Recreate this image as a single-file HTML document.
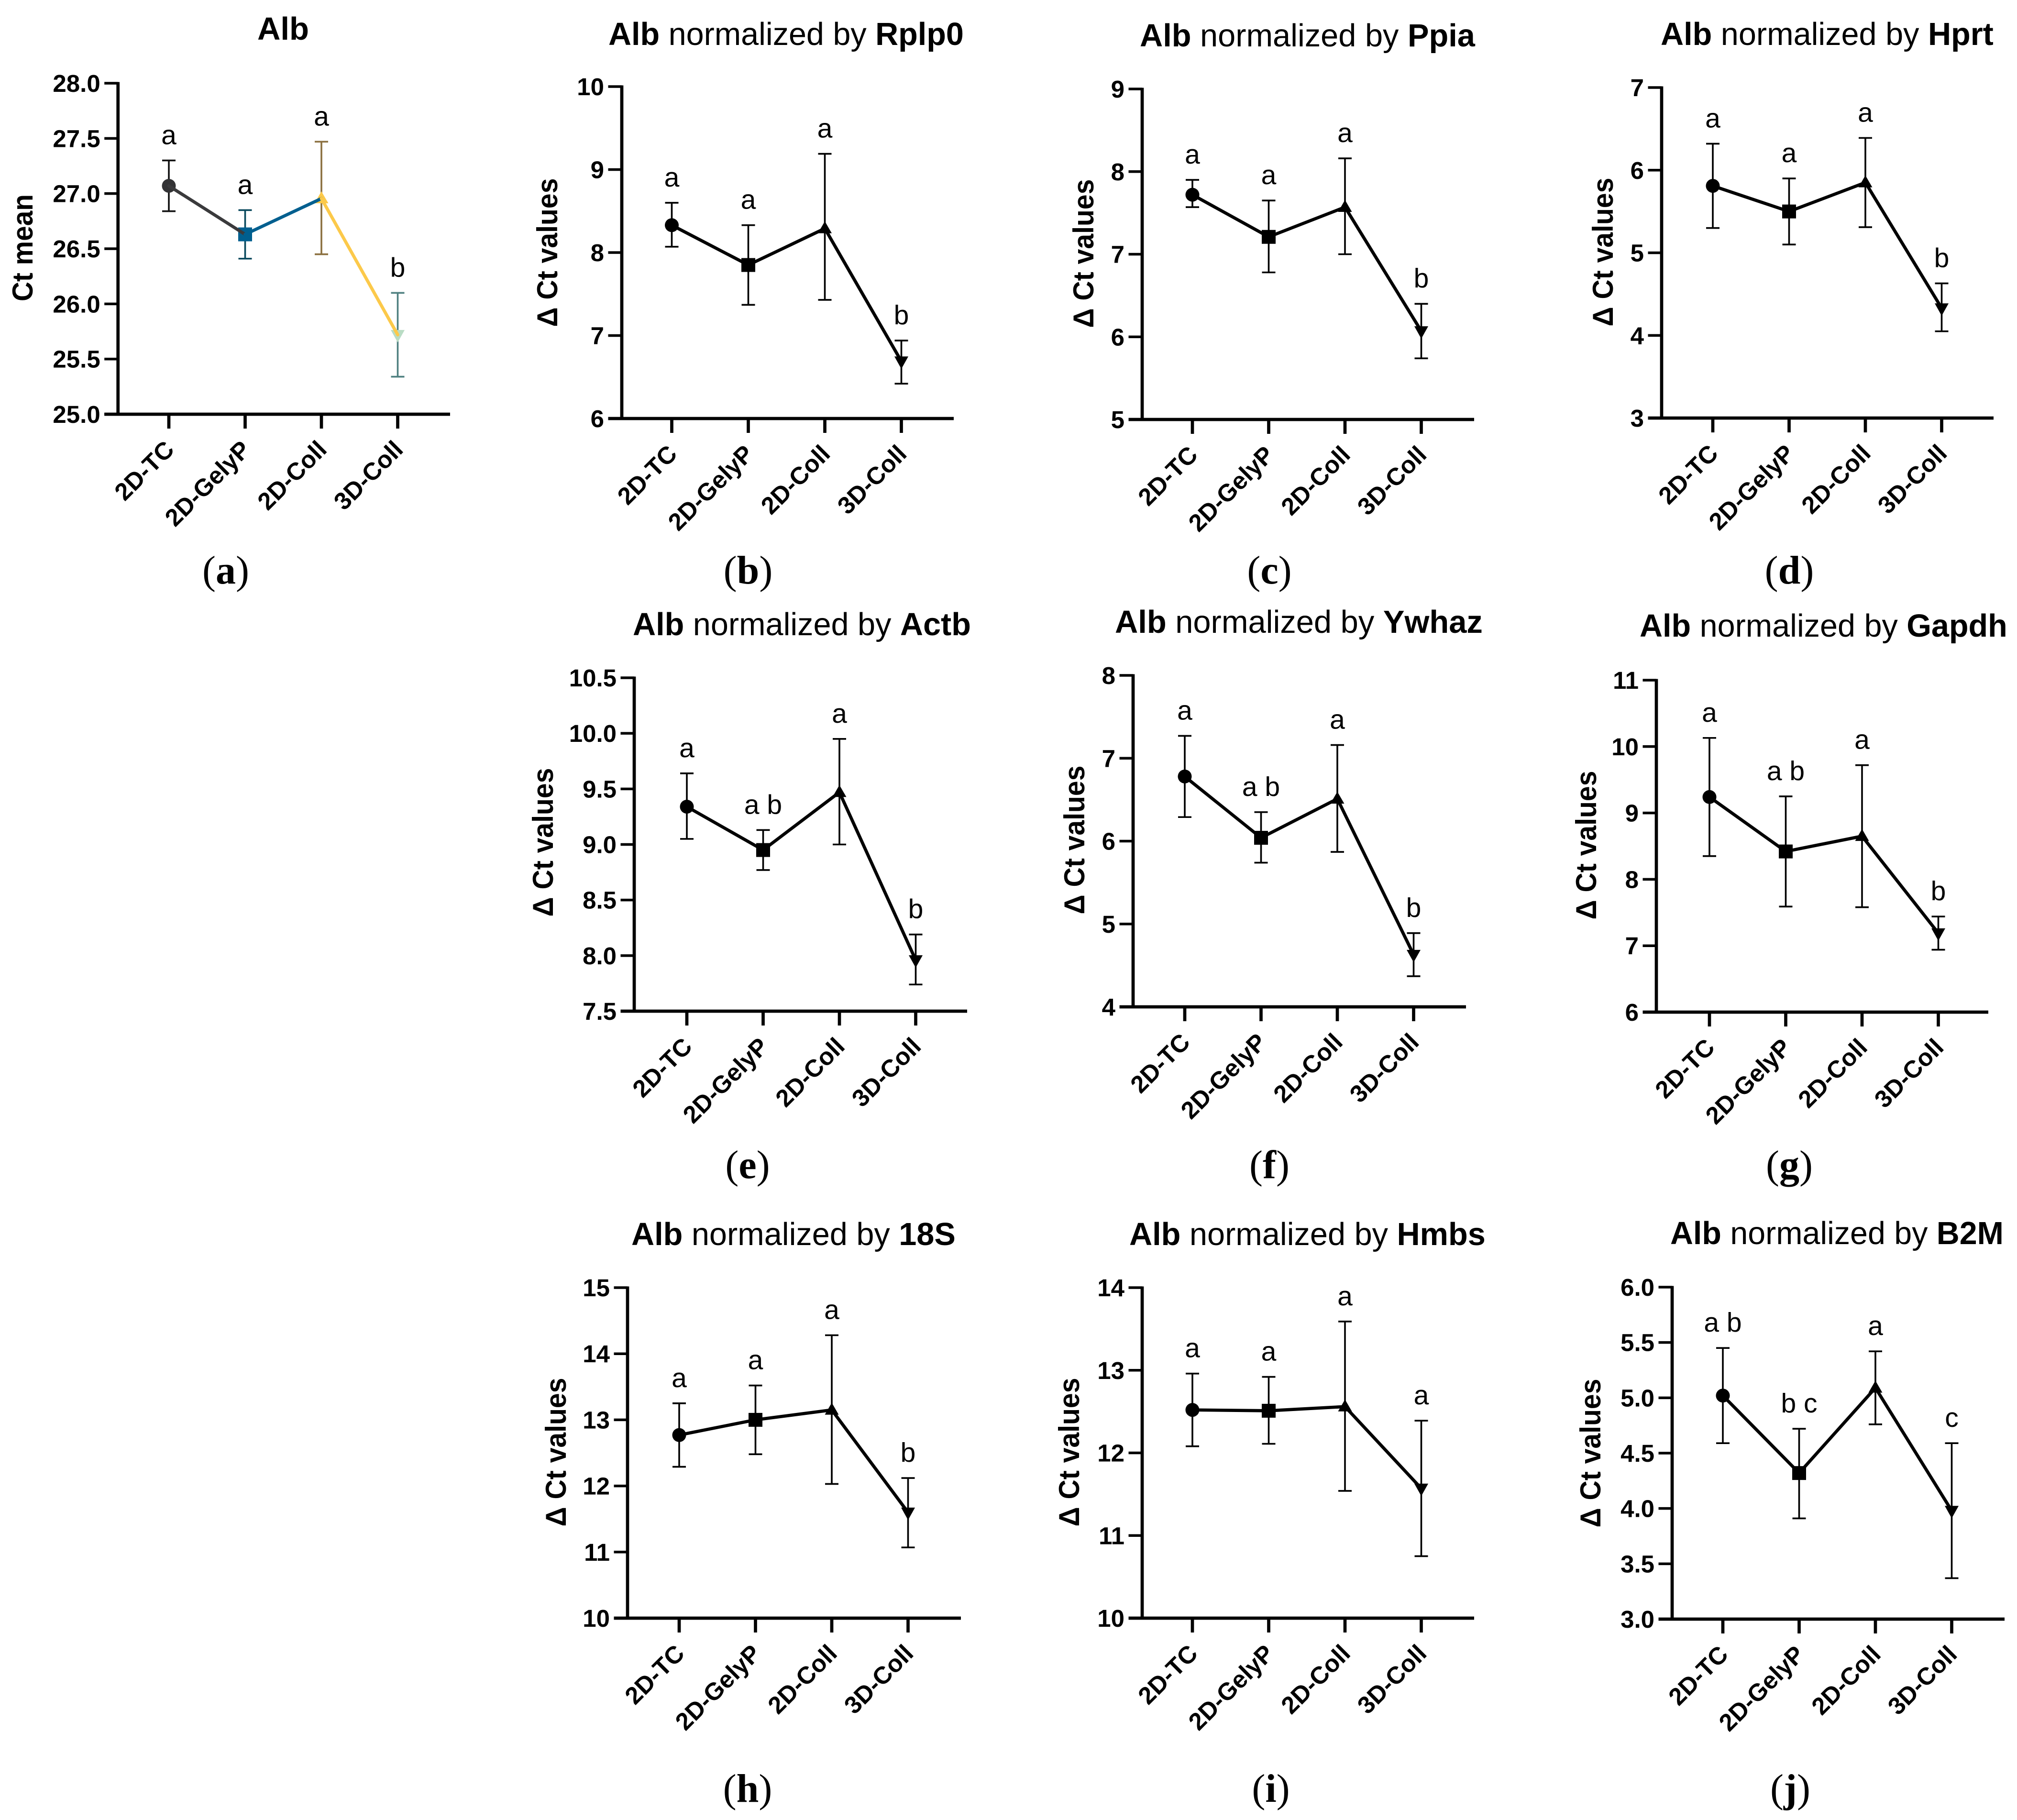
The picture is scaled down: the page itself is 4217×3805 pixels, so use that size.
<!DOCTYPE html>
<html lang="en">
<head>
<meta charset="utf-8">
<title>Alb Ct and delta Ct panels</title>
<style>
html,body{margin:0;padding:0;background:#fff;}
body{width:4217px;height:3805px;overflow:hidden;}
svg{display:block;}
text{font-family:"Liberation Sans",Arial,sans-serif;fill:#000;}
.cap{font-family:"Liberation Serif","Times New Roman",serif;}
</style>
</head>
<body>
<svg id="figure" xmlns="http://www.w3.org/2000/svg" width="4217" height="3805" viewBox="0 0 4217 3805"></svg>
<script>
// Shared categories
const categories = ['2D-TC', '2D-GelyP', '2D-Coll', '3D-Coll'];

// Panel a
const aMeans = [27.07, 26.63, 26.955, 25.72];
const aUpper = [27.30, 26.85, 27.47, 26.10];
const aLower = [26.84, 26.41, 26.45, 25.34];
const aLetters = ['a', 'a', 'a', 'b'];
const aTicks = ['25.0', '25.5', '26.0', '26.5', '27.0', '27.5', '28.0'];
// Panel b
const bMeans = [8.33, 7.85, 8.29, 6.69];
const bUpper = [8.60, 8.33, 9.19, 6.94];
const bLower = [8.07, 7.37, 7.43, 6.42];
const bLetters = ['a', 'a', 'a', 'b'];
const bTicks = ['6', '7', '8', '9', '10'];
// Panel c
const cMeans = [7.72, 7.21, 7.57, 6.07];
const cUpper = [7.90, 7.65, 8.16, 6.40];
const cLower = [7.57, 6.78, 7.00, 5.74];
const cLetters = ['a', 'a', 'a', 'b'];
const cTicks = ['5', '6', '7', '8', '9'];
// Panel d
const dMeans = [5.81, 5.50, 5.85, 4.33];
const dUpper = [6.32, 5.90, 6.39, 4.63];
const dLower = [5.30, 5.10, 5.31, 4.05];
const dLetters = ['a', 'a', 'a', 'b'];
const dTicks = ['3', '4', '5', '6', '7'];
// Panel e
const eMeans = [9.34, 8.95, 9.47, 7.96];
const eUpper = [9.64, 9.13, 9.95, 8.19];
const eLower = [9.05, 8.77, 9.00, 7.74];
const eLetters = ['a', 'a b', 'a', 'b'];
const eTicks = ['7.5', '8.0', '8.5', '9.0', '9.5', '10.0', '10.5'];
// Panel f
const fMeans = [6.78, 6.04, 6.51, 4.63];
const fUpper = [7.27, 6.35, 7.16, 4.89];
const fLower = [6.29, 5.74, 5.87, 4.37];
const fLetters = ['a', 'a b', 'a', 'b'];
const fTicks = ['4', '5', '6', '7', '8'];
// Panel g
const gMeans = [9.24, 8.42, 8.65, 7.19];
const gUpper = [10.13, 9.25, 9.72, 7.44];
const gLower = [8.35, 7.59, 7.58, 6.94];
const gLetters = ['a', 'a b', 'a', 'b'];
const gTicks = ['6', '7', '8', '9', '10', '11'];
// Panel h
const hMeans = [12.77, 13.00, 13.15, 11.60];
const hUpper = [13.25, 13.52, 14.28, 12.12];
const hLower = [12.29, 12.48, 12.03, 11.07];
const hLetters = ['a', 'a', 'a', 'b'];
const hTicks = ['10', '11', '12', '13', '14', '15'];
// Panel i
const iMeans = [12.52, 12.51, 12.56, 11.57];
const iUpper = [12.96, 12.92, 13.59, 12.39];
const iLower = [12.08, 12.11, 11.54, 10.75];
const iLetters = ['a', 'a', 'a', 'a'];
const iTicks = ['10', '11', '12', '13', '14'];
// Panel j
const jMeans = [5.02, 4.32, 5.09, 3.98];
const jUpper = [5.45, 4.72, 5.42, 4.59];
const jLower = [4.59, 3.91, 4.76, 3.37];
const jLetters = ['a b', 'b c', 'a', 'c'];
const jTicks = ['3.0', '3.5', '4.0', '4.5', '5.0', '5.5', '6.0'];

const NS = 'http://www.w3.org/2000/svg';
const fig = document.getElementById('figure');

function make(parent, tag, attrs) {
  const el = document.createElementNS(NS, tag);
  for (const k in attrs) el.setAttribute(k, attrs[k]);
  parent.appendChild(el);
  return el;
}

const panels = [
 {id:'a', means:aMeans, upper:aUpper, lower:aLower, letters:aLetters, ticks:aTicks,
  ax:246.7, top:174, bottom:866, right:941, x0:353, dx:159.5,
  gene:'', yTitle:'Ct mean', titleX:[538,646], titleY:83, yTitleX:68, yTitleY:518, yTitleLen:224, capX:472, capY:1220,
  lineColors:['#3a3a3c','#005f8f','#fcc94a'], markColors:['#333335','#005f8f','#fcc94a','#b9dcc4'], errColors:['#111111','#0b4a5e','#8a6f3e','#4f8080']},
 {id:'b', means:bMeans, upper:bUpper, lower:bLower, letters:bLetters, ticks:bTicks,
  ax:1300, top:181, bottom:875, right:1994, x0:1404.5, dx:160,
  gene:'Rplp0', yTitle:'Δ Ct values', titleX:[1272,2015], titleY:94, yTitleX:1165, yTitleY:528, yTitleLen:311, capX:1564, capY:1220},
 {id:'c', means:cMeans, upper:cUpper, lower:cLower, letters:cLetters, ticks:cTicks,
  ax:2388, top:186, bottom:877, right:3082, x0:2493, dx:159.5,
  gene:'Ppia', yTitle:'Δ Ct values', titleX:[2383,3084], titleY:97, yTitleX:2286, yTitleY:530, yTitleLen:311, capX:2654, capY:1220},
 {id:'d', means:dMeans, upper:dUpper, lower:dLower, letters:dLetters, ticks:dTicks,
  ax:3474, top:183, bottom:874, right:4168, x0:3581, dx:159.5,
  gene:'Hprt', yTitle:'Δ Ct values', titleX:[3472,4168], titleY:94, yTitleX:3372, yTitleY:527, yTitleLen:311, capX:3741, capY:1220},
 {id:'e', means:eMeans, upper:eUpper, lower:eLower, letters:eLetters, ticks:eTicks,
  ax:1326, top:1417, bottom:2114, right:2022, x0:1436, dx:159.5,
  gene:'Actb', yTitle:'Δ Ct values', titleX:[1323,2030], titleY:1328, yTitleX:1156, yTitleY:1761, yTitleLen:311, capX:1563, capY:2463},
 {id:'f', means:fMeans, upper:fUpper, lower:fLower, letters:fLetters, ticks:fTicks,
  ax:2369, top:1412, bottom:2105, right:3065, x0:2477, dx:159.5,
  gene:'Ywhaz', yTitle:'Δ Ct values', titleX:[2331,3100], titleY:1323, yTitleX:2267, yTitleY:1756, yTitleLen:311, capX:2654, capY:2463},
 {id:'g', means:gMeans, upper:gUpper, lower:gLower, letters:gLetters, ticks:gTicks,
  ax:3463, top:1422, bottom:2116, right:4157, x0:3574, dx:159.5,
  gene:'Gapdh', yTitle:'Δ Ct values', titleX:[3428,4197], titleY:1331, yTitleX:3337, yTitleY:1767, yTitleLen:311, capX:3741, capY:2463},
 {id:'h', means:hMeans, upper:hUpper, lower:hLower, letters:hLetters, ticks:hTicks,
  ax:1312, top:2692, bottom:3383, right:2009, x0:1420, dx:159.5,
  gene:'18S', yTitle:'Δ Ct values', titleX:[1320,1998], titleY:2603, yTitleX:1183, yTitleY:3036, yTitleLen:311, capX:1563, capY:3767},
 {id:'i', means:iMeans, upper:iUpper, lower:iLower, letters:iLetters, ticks:iTicks,
  ax:2388, top:2692, bottom:3383, right:3082, x0:2493, dx:159.5,
  gene:'Hmbs', yTitle:'Δ Ct values', titleX:[2361,3106], titleY:2603, yTitleX:2256, yTitleY:3036, yTitleLen:311, capX:2657, capY:3767},
 {id:'j', means:jMeans, upper:jUpper, lower:jLower, letters:jLetters, ticks:jTicks,
  ax:3496, top:2691, bottom:3385, right:4191, x0:3602, dx:159.5,
  gene:'B2M', yTitle:'Δ Ct values', titleX:[3492,4189], titleY:2601, yTitleX:3346, yTitleY:3038, yTitleLen:311, capX:3743, capY:3767}
];

function drawPanel(p) {
  const g = make(fig, 'g', {});
  
  

  const tickVals = p.ticks.map(Number);
  const yMin = tickVals[0];
  const yMax = tickVals[tickVals.length - 1];
  const yScale = v => p.bottom - (v - yMin) / (yMax - yMin) * (p.bottom - p.top);
  const xScale = i => p.x0 + i * p.dx;

  // Title
  const title = make(g, 'text', {'font-size': 67});
  
  
  const b1 = make(title, 'tspan', {'font-weight': 'bold'});
  b1.textContent = 'Alb';
  if (p.gene) {
    const mid = make(title, 'tspan', {});
    mid.textContent = ' normalized by ';
    const b2 = make(title, 'tspan', {'font-weight': 'bold'});
    b2.textContent = p.gene;
  }
  const tLen = title.getComputedTextLength();
  const tWidth = p.titleX[1] - p.titleX[0];
  title.setAttribute('transform', 'translate(' + p.titleX[0] + ',' + p.titleY + ') scale(' + (tWidth / tLen) + ',1)');

  // Y axis title
  const yt = make(g, 'text', {'font-size': 60, 'font-weight': 'bold', 'text-anchor': 'middle'});
  yt.textContent = p.yTitle;
  
  
  const ytLen = yt.getComputedTextLength();
  yt.setAttribute('transform', 'translate(' + p.yTitleX + ',' + p.yTitleY + ') rotate(-90) scale(' + (p.yTitleLen / ytLen) + ',1)');

  // Axes
  const yAxis = make(g, 'line', {x1: p.ax, x2: p.ax, y1: p.top - 2.5, y2: p.bottom + 3, stroke: '#000', 'stroke-width': 6.7});
  
  
  const xAxis = make(g, 'line', {x1: p.ax - 28.5, x2: p.right, y1: p.bottom, y2: p.bottom, stroke: '#000', 'stroke-width': 6.7});
  
  

  // Y ticks
  tickVals.forEach((v, k) => {
    const y = yScale(v);
    const t = make(g, 'line', {x1: p.ax - 28.5, x2: p.ax, y1: y, y2: y, stroke: '#000', 'stroke-width': 5.5});
    
    
    const lab = make(g, 'text', {x: p.ax - 37, y: y + 18, 'font-size': 51, 'font-weight': 'bold', 'text-anchor': 'end'});
    lab.textContent = p.ticks[k];
    
    
  });

  // X ticks and labels
  categories.forEach((c, i) => {
    const x = xScale(i);
    const t = make(g, 'line', {x1: x, x2: x, y1: p.bottom, y2: p.bottom + 30, stroke: '#000', 'stroke-width': 6.7});
    
    
    const lab = make(g, 'text', {'font-size': 51, 'font-weight': 'bold', 'text-anchor': 'end',
      transform: 'translate(' + (x + 14) + ',' + (p.bottom + 77) + ') rotate(-45)'});
    lab.textContent = c;
    
    
  });

  // Error bars
  categories.forEach((c, i) => {
    const x = xScale(i);
    const yU = yScale(p.upper[i]);
    const yL = yScale(p.lower[i]);
    const col = p.errColors ? p.errColors[i] : '#000';
    const eg = make(g, 'g', {stroke: col, 'stroke-width': 3.6, fill: 'none'});
    
    
    make(eg, 'line', {x1: x, x2: x, y1: yU, y2: yL});
    make(eg, 'line', {x1: x - 14, x2: x + 14, y1: yU, y2: yU});
    make(eg, 'line', {x1: x - 14, x2: x + 14, y1: yL, y2: yL});
  });

  // Markers
  p.means.forEach((v, i) => {
    const x = xScale(i);
    const y = yScale(v);
    const col = p.markColors ? p.markColors[i] : '#000';
    let m;
    if (i === 0) {
      m = make(g, 'circle', {cx: x, cy: y, r: 14.5, fill: col});
    } else if (i === 1) {
      m = make(g, 'rect', {x: x - 14.5, y: y - 14.5, width: 29, height: 29, fill: col});
    } else if (i === 2) {
      m = make(g, 'polygon', {points: [x, y - 15, x + 14.5, y + 10, x - 14.5, y + 10].join(','), fill: col});
    } else {
      m = make(g, 'polygon', {points: [x, y + 16, x + 14.5, y - 10, x - 14.5, y - 10].join(','), fill: col});
    }
    
    
  });

  // Connecting line
  for (let i = 0; i < p.means.length - 1; i++) {
    const seg = make(g, 'line', {x1: xScale(i), y1: yScale(p.means[i]), x2: xScale(i + 1), y2: yScale(p.means[i + 1]),
      stroke: p.lineColors ? p.lineColors[i] : '#000', 'stroke-width': 6.7, 'stroke-linecap': 'round'});
    
    
  }

  // Significance letters
  p.letters.forEach((s, i) => {
    const lab = make(g, 'text', {x: xScale(i), y: yScale(p.upper[i]) - 34, 'font-size': 57, 'text-anchor': 'middle'});
    lab.textContent = s;
    
    
  });

  // Caption
  const cap = make(g, 'text', {'class': 'cap', 'font-size': 84, 'text-anchor': 'middle', x: p.capX, y: p.capY});
  
  
  const o = make(cap, 'tspan', {});
  o.textContent = '(';
  const l = make(cap, 'tspan', {'font-weight': 'bold'});
  l.textContent = p.id;
  const e = make(cap, 'tspan', {});
  e.textContent = ')';
}

panels.forEach(drawPanel);
</script>
</body>
</html>
